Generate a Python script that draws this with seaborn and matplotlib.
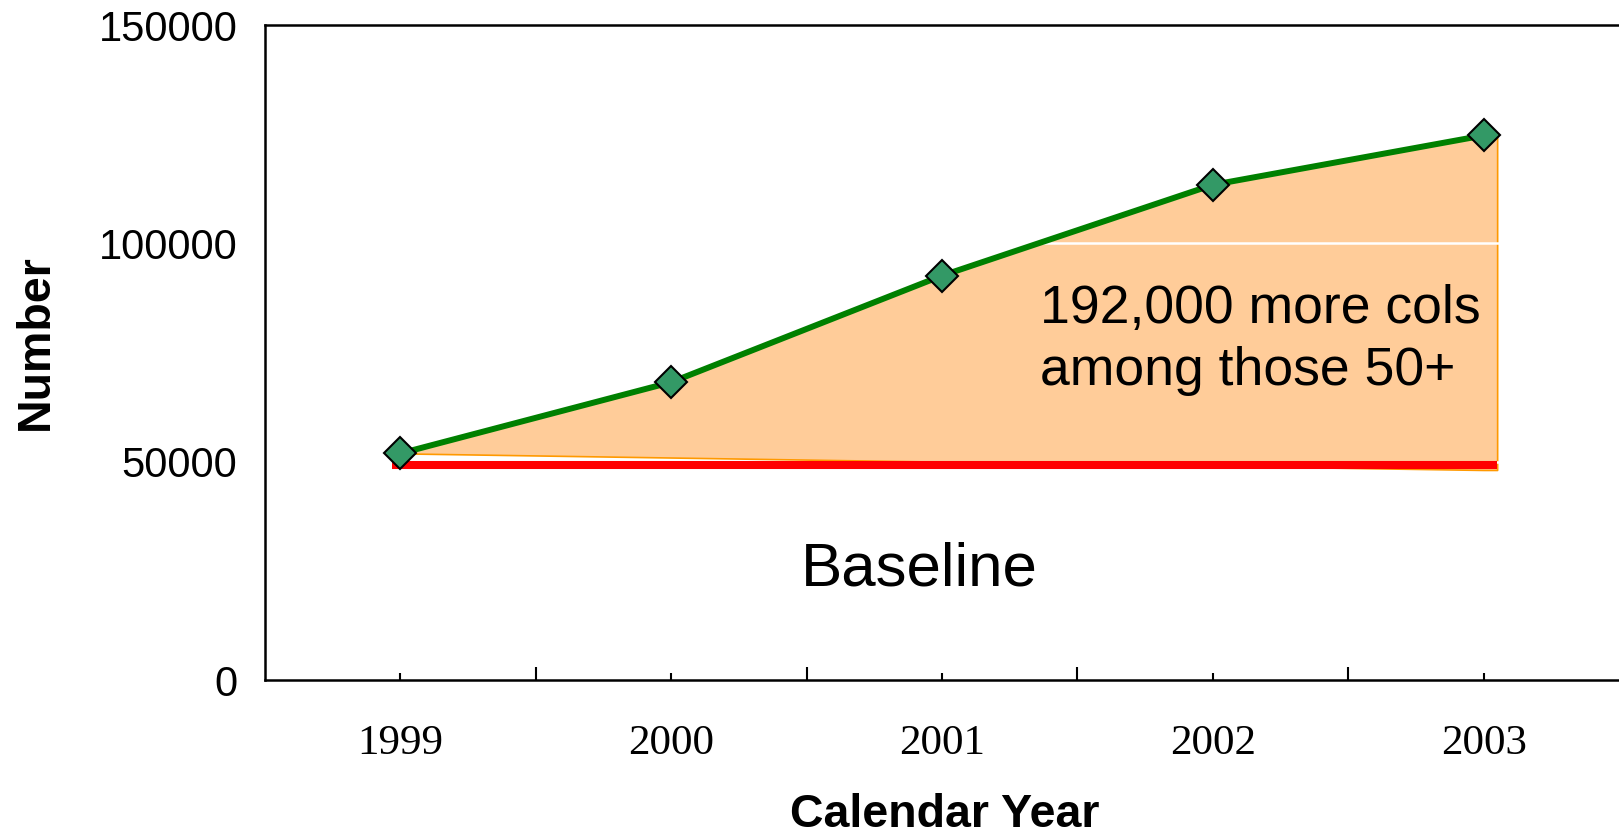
import numpy as np
import matplotlib
matplotlib.use("Agg")
import matplotlib.pyplot as plt
import seaborn as sns

years = [1999, 2000, 2001, 2002, 2003]
colonoscopies = [51900, 68200, 92600, 113400, 124700]
baseline = [49300, 49300, 49300, 49300, 49300]
fill_floor = [51900, 50950, 50000, 49050, 48100]
y_ticks = [0, 50000, 100000, 150000]
note_text = "192,000 more cols\namong those 50+"

sns.set_theme(style="white")
plt.rcParams["font.family"] = ["Liberation Sans", "DejaVu Sans"]

fig = plt.figure(figsize=(16.19, 8.39), dpi=100)
ax = fig.add_axes([0.1637, 0.1895, 0.8363, 0.7807])

# shaded extra volume over baseline, stretched a touch past the last year
x_fill = years + [years[-1] + 0.05]
top_fill = colonoscopies + [colonoscopies[-1]]
low_fill = fill_floor + [fill_floor[-1]]
ax.fill_between(x_fill, low_fill, top_fill, color="#FFCC99", edgecolor="#FF9900",
                linewidth=1.2, zorder=1)

for v in y_ticks[1:-1]:
    ax.axhline(v, color="white", lw=1.8, zorder=1.5)

x_base = [years[0] - 0.03] + years[1:-1] + [years[-1] + 0.05]
ax.plot(x_base, baseline, color="#FF0000", lw=5.8, solid_capstyle="butt", zorder=2)

sns.lineplot(x=years, y=colonoscopies, ax=ax, color="#008000", linewidth=4.3,
             marker="D", markersize=16, markerfacecolor="#339966",
             markeredgecolor="black", markeredgewidth=1.5, zorder=3)

ax.set_xlim(years[0] - 0.5, years[-1] + 0.5)
ax.set_ylim(y_ticks[0], y_ticks[-1])
ax.set_xticks(years)
ax.set_xticks([y + 0.5 for y in years[:-1]], minor=True)
ax.set_xticklabels([str(y) for y in years], family=["Liberation Serif", "DejaVu Serif"],
                   fontsize=31)
ax.set_yticks(y_ticks)
ax.set_yticklabels([str(v) for v in y_ticks], fontsize=30)

ax.tick_params(axis="x", which="major", direction="in", length=5, width=1.5, pad=32,
               bottom=True, colors="black")
ax.tick_params(axis="x", which="minor", direction="in", length=9.5, width=1.5,
               bottom=True, colors="black")
ax.tick_params(axis="y", length=0, pad=20, colors="black")

for side in ["left", "bottom", "top"]:
    ax.spines[side].set_color("black")
    ax.spines[side].set_linewidth(1.8)
ax.spines["right"].set_visible(False)

ax.set_xlabel("Calendar Year", fontsize=33.5, fontweight="bold", color="black")
ax.set_ylabel("Number", fontsize=33.5, fontweight="bold", color="black")
ax.xaxis.set_label_coords(0.502, -0.173)
ax.yaxis.set_label_coords(-0.153, 0.516)

ax.text(2001.36, 90800, note_text, fontsize=38.5, va="top", ha="left",
        linespacing=1.32, color="black", zorder=4)
ax.text(2000.915, 21750, "Baseline", fontsize=44.5, va="baseline", ha="center",
        color="black", zorder=4)

fig.savefig("out.png", dpi=100)
